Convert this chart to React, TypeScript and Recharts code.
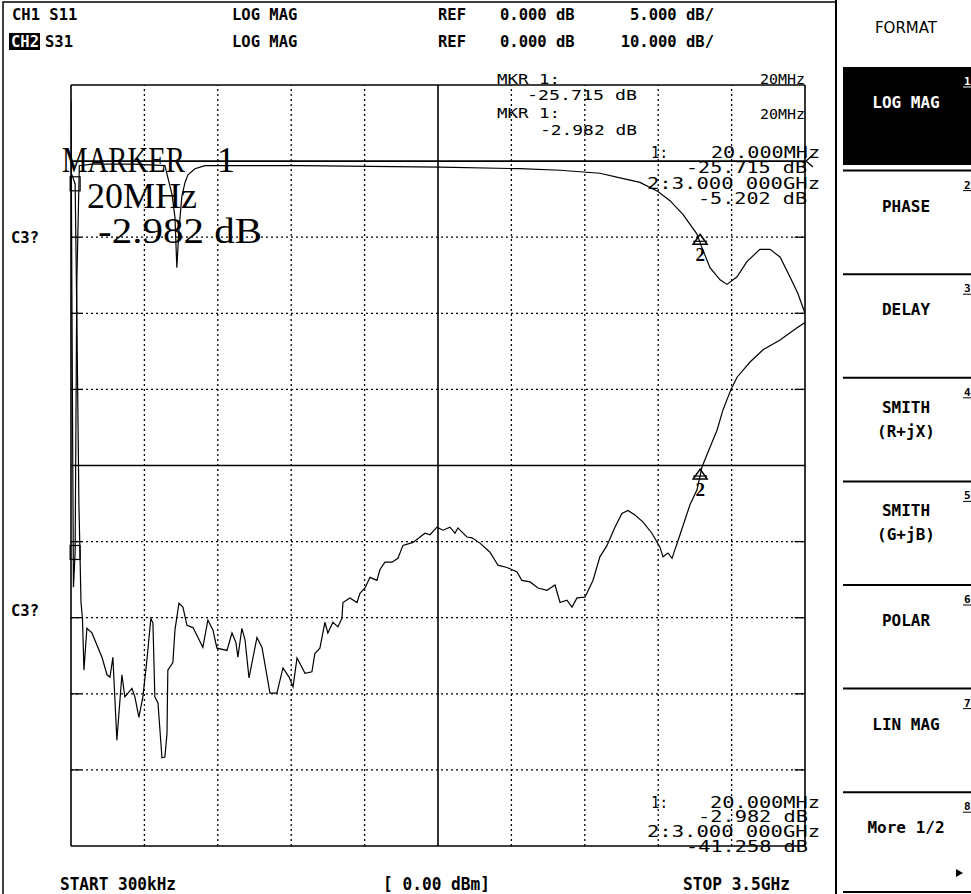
import React from "react";
import { LineChart, Line, XAxis, YAxis, ReferenceLine, ReferenceDot } from "recharts";

// sweep
const START_MHZ = 0.3;
const STOP_MHZ = 3500;
const DIVS = 10;

// CH1 S11, 5 dB/div, ref 0 dB at 1st division; CH2 S31, 10 dB/div
const CH1_DOMAIN = [-45, 5];
const CH2_DOMAIN = [-90, 10];

// CH1 (S11) trace
const CH1_FREQ_MHZ = [
  0.3, 5, 12, 20, 28, 40, 100, 300, 448, 482,
  496, 505, 515, 529, 544, 558, 591, 639, 1092, 1760,
  2141, 2332, 2522, 2618, 2713, 2799, 2856, 2918, 2985, 3009,
  3047, 3095, 3128, 3176, 3223, 3285, 3333, 3381, 3428, 3466,
  3500,
];
const CH1_DB = [
  4, -10, -28, -25.7, -8, -0.3, -0.2, -0.2, -0.3, -2.2,
  -3.7, -7.0, -4.5, -2.3, -1.4, -0.9, -0.5, -0.3, -0.3, -0.4,
  -0.5, -0.6, -0.8, -1.1, -1.4, -2.0, -2.6, -3.5, -4.8, -5.7,
  -7.0, -7.8, -8.1, -7.6, -6.6, -5.8, -5.8, -6.3, -7.6, -8.7,
  -10.0,
];

// CH2 (S31) trace
const CH2_FREQ_MHZ = [
  0.3, 10, 20, 28, 38, 48, 55, 62, 76, 100,
  148, 172, 186, 200, 219, 243, 257, 272, 291, 305,
  324, 343, 362, 381, 391, 400, 415, 434, 448, 458,
  462, 486, 496, 515, 534, 553, 582, 629, 653, 677,
  696, 744, 768, 787, 796, 815, 830, 849, 887, 911,
  949, 982, 1011, 1040, 1059, 1078, 1116, 1149, 1163, 1187,
  1211, 1225, 1249, 1273, 1292, 1297, 1330, 1364, 1378, 1402,
  1426, 1459, 1473, 1497, 1531, 1559, 1583, 1631, 1688, 1712,
  1745, 1774, 1807, 1831, 1845, 1888, 1912, 1950, 1998, 2036,
  2079, 2127, 2150, 2189, 2227, 2270, 2308, 2332, 2365, 2389,
  2413, 2451, 2489, 2522, 2556, 2594, 2627, 2656, 2689, 2727,
  2770, 2808, 2823, 2847, 2866, 2904, 2951, 2985, 3009, 3047,
  3080, 3109, 3147, 3176, 3238, 3300, 3381, 3462, 3500,
];
const CH2_DB = [
  -1.5, -2.2, -3.0, -20, -45, -58, -60.1, -66.9, -61.4, -62.0,
  -65.2, -67.5, -67.8, -65.2, -76.1, -67.5, -70.4, -69.9, -69.3, -70.4,
  -73.1, -70.4, -65.6, -60.1, -60.7, -70.4, -71.2, -78.4, -78.3, -75.2,
  -66.9, -65.9, -61.6, -58.1, -58.6, -61.0, -61.3, -63.9, -60.3, -61.6,
  -64.0, -64.3, -62.0, -63.3, -65.2, -61.4, -62.9, -67.9, -62.6, -63.9,
  -69.9, -69.9, -66.6, -67.8, -69.1, -65.3, -67.3, -67.1, -64.7, -64.0,
  -60.6, -62.0, -60.6, -61.2, -60.1, -58.0, -57.4, -58.0, -56.8, -56.1,
  -54.7, -55.1, -53.7, -52.7, -52.7, -52.2, -50.5, -50.1, -48.9, -49.1,
  -48.1, -48.5, -48.1, -48.9, -48.2, -49.4, -49.5, -50.2, -51.4, -53.1,
  -53.4, -54.0, -55.1, -55.3, -56.1, -56.4, -55.7, -58.0, -57.7, -58.6,
  -57.4, -57.3, -55.1, -52.0, -50.5, -48.1, -46.3, -45.9, -46.5, -47.4,
  -48.9, -50.7, -52.0, -51.5, -52.2, -49.1, -45.2, -43.2, -40.2, -37.6,
  -35.4, -32.7, -30.0, -28.4, -26.4, -24.8, -23.5, -21.9, -21.2,
];

// markers
const MKR_FREQ_MHZ = [20, 3000];
const MKR_CH1_DB = [-25.715, -5.202];
const MKR_CH2_DB = [-2.982, -41.258];

const SOFTKEYS = ["LOG MAG", "PHASE", "DELAY", "SMITH\n(R+jX)", "SMITH\n(G+jB)", "POLAR", "LIN MAG", "More 1/2"];

const ch1Data = CH1_FREQ_MHZ.map((f, i) => ({ f, db: CH1_DB[i] }));
const ch2Data = CH2_FREQ_MHZ.map((f, i) => ({ f, db: CH2_DB[i] }));

const xGrid = Array.from({ length: DIVS + 1 }, (_, i) => START_MHZ + (i * (STOP_MHZ - START_MHZ)) / DIVS);
const yGrid = Array.from({ length: DIVS + 1 }, (_, i) => CH1_DOMAIN[1] - (i * (CH1_DOMAIN[1] - CH1_DOMAIN[0])) / DIVS);
const SOLID_X = [0, 5, 10];
const SOLID_Y = [0, 1, 5, 10];

const PIX = "'DejaVu Sans Mono', monospace";
const VEC = "'Liberation Serif', serif";

function T(props: any) {
  const { x, y, w, size = 15.5, bold = true, fill = "#000", anchor = "start", family = PIX, children } = props;
  return (
    <text
      x={x}
      y={y}
      fontSize={size}
      fontFamily={family}
      fontWeight={bold ? "bold" : "normal"}
      fill={fill}
      textAnchor={anchor}
      textLength={w}
      lengthAdjust={w ? "spacingAndGlyphs" : undefined}
    >
      {children}
    </text>
  );
}

function Thin(props: any) {
  return <T size={16} bold={false} {...props} />;
}

const squareShape = (p: any) => (
  <rect x={p.cx - 5} y={p.cy - 7} width={10} height={14} fill="none" stroke="#000" strokeWidth={1.2} />
);

const triShape = (p: any) => (
  <g>
    <polygon points={`${p.cx},${p.cy - 6} ${p.cx - 7},${p.cy + 4} ${p.cx + 7},${p.cy + 4}`} fill="none" stroke="#000" strokeWidth={1.5} />
    <line x1={p.cx - 7} y1={p.cy + 1} x2={p.cx + 7} y2={p.cy + 1} stroke="#000" strokeWidth={1.2} />
    <text x={p.cx} y={p.cy + 21} fontSize={19} fontFamily={VEC} fontWeight="bold" textAnchor="middle" fill="#000">2</text>
  </g>
);

const refArrow = (p: any) => (
  <g fill="none" stroke="#000" strokeWidth={1.3}>
    <polyline points={`${p.cx + 8},${p.cy - 6} ${p.cx + 1},${p.cy} ${p.cx + 8},${p.cy + 6}`} />
  </g>
);

export default function App() {
  const edge = (STOP_MHZ - START_MHZ) / 70;
  return (
    <div style={{ position: "absolute", left: 0, top: 0, width: 971, height: 894, background: "#fff", overflow: "hidden" }}>
      <div style={{ position: "absolute", left: 0, top: 0 }}>
        <LineChart width={840} height={894} margin={{ top: 85, right: 35, bottom: 48, left: 71 }}>
          <XAxis type="number" dataKey="f" domain={[START_MHZ, STOP_MHZ]} hide allowDataOverflow />
          <YAxis yAxisId="ch1" type="number" domain={CH1_DOMAIN} hide allowDataOverflow />
          <YAxis yAxisId="ch2" type="number" domain={CH2_DOMAIN} hide allowDataOverflow />

          {xGrid.map((x, i) => (
            <ReferenceLine
              key={"vx" + i}
              x={x}
              yAxisId="ch1"
              stroke="#000"
              strokeWidth={SOLID_X.includes(i) ? 1.6 : 1.3}
              strokeDasharray={SOLID_X.includes(i) ? undefined : "2 3"}
            />
          ))}
          {yGrid.map((y, i) => (
            <ReferenceLine
              key={"hy" + i}
              y={y}
              yAxisId="ch1"
              stroke="#000"
              strokeWidth={SOLID_Y.includes(i) ? 1.6 : 1.3}
              strokeDasharray={SOLID_Y.includes(i) ? undefined : "2 3"}
            />
          ))}
          {yGrid.map((y, i) =>
            SOLID_Y.includes(i) ? null : (
              <ReferenceLine
                key={"te" + i}
                yAxisId="ch1"
                stroke="#000"
                strokeWidth={1.3}
                segment={[{ x: STOP_MHZ - edge, y }, { x: STOP_MHZ, y }]}
              />
            )
          )}
          {yGrid.map((y, i) =>
            SOLID_Y.includes(i) ? null : (
              <ReferenceLine
                key={"tl" + i}
                yAxisId="ch1"
                stroke="#000"
                strokeWidth={1.3}
                segment={[{ x: START_MHZ, y }, { x: START_MHZ + edge, y }]}
              />
            )
          )}

          <Line data={ch1Data} yAxisId="ch1" dataKey="db" type="linear" stroke="#000" strokeWidth={1.2} dot={false} isAnimationActive={false} />
          <Line data={ch2Data} yAxisId="ch2" dataKey="db" type="linear" stroke="#000" strokeWidth={1.2} dot={false} isAnimationActive={false} />

          <ReferenceDot x={MKR_FREQ_MHZ[0]} y={MKR_CH1_DB[0]} yAxisId="ch1" shape={squareShape} />
          <ReferenceDot x={MKR_FREQ_MHZ[0]} y={MKR_CH2_DB[0]} yAxisId="ch2" shape={squareShape} />
          <ReferenceDot x={MKR_FREQ_MHZ[1]} y={MKR_CH1_DB[1]} yAxisId="ch1" shape={triShape} />
          <ReferenceDot x={MKR_FREQ_MHZ[1]} y={MKR_CH2_DB[1]} yAxisId="ch2" shape={triShape} />
          <ReferenceDot x={STOP_MHZ} y={0} yAxisId="ch1" shape={refArrow} />
        </LineChart>
      </div>

      <svg width={971} height={894} style={{ position: "absolute", left: 0, top: 0, pointerEvents: "none" }}>
        {/* frame */}
        <rect x={3} y={2} width={833} height={900} fill="none" stroke="#000" strokeWidth={1.5} />
        <line x1={836} y1={0} x2={836} y2={894} stroke="#000" strokeWidth={2} />

        {/* header */}
        <T x={12} y={20}>CH1 S11</T>
        <T x={232} y={20}>LOG MAG</T>
        <T x={438} y={20}>REF</T>
        <T x={500} y={20}>0.000 dB</T>
        <T x={714} y={20} anchor="end">5.000 dB/</T>
        <rect x={9} y={33} width={31} height={17} fill="#000" />
        <T x={11} y={47} fill="#fff">CH2</T>
        <T x={45} y={47}>S31</T>
        <T x={232} y={47}>LOG MAG</T>
        <T x={438} y={47}>REF</T>
        <T x={500} y={47}>0.000 dB</T>
        <T x={714} y={47} anchor="end">10.000 dB/</T>

        {/* marker readouts, top */}
        <Thin x={497} y={84} w={63} size={14}>MKR 1:</Thin>
        <Thin x={760} y={84} w={45} size={14}>20MHz</Thin>
        <Thin x={527} y={100} w={110} size={14}>-25.715 dB</Thin>
        <Thin x={497} y={118} w={63} size={14}>MKR 1:</Thin>
        <Thin x={760} y={119} w={45} size={14}>20MHz</Thin>
        <Thin x={540} y={135} w={97} size={14}>-2.982 dB</Thin>
        <Thin x={651} y={158} w={17}>1:</Thin>
        <Thin x={711} y={158} w={109}>20.000MHz</Thin>
        <Thin x={686} y={173} w={121}>-25.715 dB</Thin>
        <Thin x={647} y={189} w={173}>2:3.000 000GHz</Thin>
        <Thin x={698} y={204} w={109}>-5.202 dB</Thin>

        {/* marker readouts, bottom */}
        <Thin x={651} y={808} w={17}>1:</Thin>
        <Thin x={710} y={808} w={110}>20.000MHz</Thin>
        <Thin x={698} y={822} w={110}>-2.982 dB</Thin>
        <Thin x={647} y={837} w={173}>2:3.000 000GHz</Thin>
        <Thin x={686} y={852} w={122}>-41.258 dB</Thin>

        {/* active marker */}
        <T x={62} y={172} w={123} size={36} bold={false} family={VEC}>MARKER</T>
        <T x={217} y={172} size={36} bold={false} family={VEC}>1</T>
        <T x={87} y={208} w={110} size={36} bold={false} family={VEC}>20MHz</T>
        <T x={98} y={243} w={164} size={36} bold={false} family={VEC}>-2.982 dB</T>

        <T x={11} y={243}>C3?</T>
        <T x={11} y={616}>C3?</T>

        {/* bottom */}
        <T x={60} y={890} size={17} w={116}>START 300kHz</T>
        <T x={383} y={890} size={17} w={107}>[ 0.00 dBm]</T>
        <T x={683} y={890} size={17} w={107}>STOP 3.5GHz</T>

        {/* softkeys */}
        <T x={906} y={33} size={15} bold={false} family="'DejaVu Sans', sans-serif" anchor="middle">FORMAT</T>
        <rect x={843} y={67} width={128} height={98} fill="#000" />
        {SOFTKEYS.map((label, i) => {
          const top = 67 + i * 103.6;
          const lines = label.split("\n");
          return (
            <g key={label + i}>
              {i > 0 && <line x1={843} y1={top} x2={971} y2={top} stroke="#000" strokeWidth={2} />}
              {lines.map((ln, j) => (
                <T
                  key={j}
                  x={906}
                  y={lines.length === 1 ? top + 41 : top + 35 + j * 24}
                  size={16}
                  anchor="middle"
                  fill={i === 0 ? "#fff" : "#000"}
                >
                  {ln}
                </T>
              ))}
              <T x={964} y={top + 18} size={11} fill={i === 0 ? "#fff" : "#000"}>{String(i + 1)}</T>
              <line x1={963} y1={top + 20} x2={971} y2={top + 20} stroke={i === 0 ? "#fff" : "#000"} strokeWidth={1} />
            </g>
          );
        })}
        <line x1={843} y1={892} x2={971} y2={892} stroke="#000" strokeWidth={2} />
        <polygon points="956,869 963,873 956,877" fill="#000" />
      </svg>
    </div>
  );
}
